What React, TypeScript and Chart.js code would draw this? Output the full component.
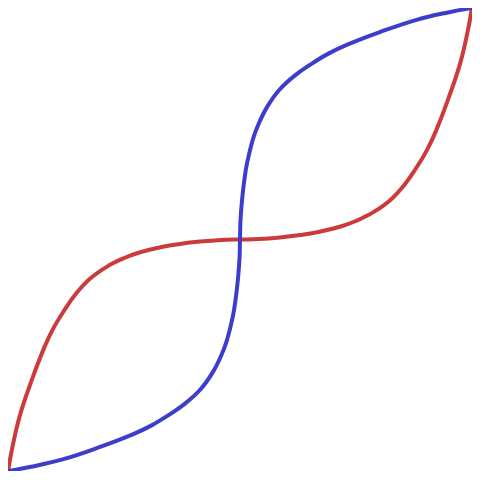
import React, { useEffect, useRef } from "react";
import { Chart, registerables } from "chart.js";

Chart.register(...registerables);

// Red curve, lower-left half; the upper half is its point reflection.
const redXLower = [-1, -0.983, -0.949, -0.895, -0.843, -0.804, -0.76, -0.709, -0.647, -0.573, -0.499, -0.434, -0.333, -0.259, -0.172, -0.08, 0];
const redYLower = [-1, -0.907, -0.761, -0.6, -0.465, -0.383, -0.31, -0.237, -0.17, -0.117, -0.08, -0.056, -0.031, -0.019, -0.009, -0.002, 0];

const RED = "#cc3b3b";
const BLUE = "#3d3dcc";

export default function App() {
  const ref = useRef<HTMLCanvasElement | null>(null);
  useEffect(() => {
    if (!ref.current) return;
    const lower = redXLower.map((x, i) => ({ x, y: redYLower[i] }));
    const upper = lower.slice(0, -1).reverse().map((p) => ({ x: -p.x, y: -p.y }));
    const redData = [...lower, ...upper];
    const blueData = redData.map((p) => ({ x: p.y, y: p.x }));
    const chart = new Chart(ref.current, {
      type: "line",
      data: {
        datasets: [
          {
            label: "blue",
            data: blueData,
            borderColor: BLUE,
            backgroundColor: BLUE,
            borderWidth: 4,
            pointRadius: 0,
            tension: 0.4,
          },
          {
            label: "red",
            data: redData,
            borderColor: RED,
            backgroundColor: RED,
            borderWidth: 4,
            pointRadius: 0,
            tension: 0.4,
          },
        ],
      },
      options: {
        animation: false,
        responsive: false,
        maintainAspectRatio: false,
        layout: { padding: { left: 0, right: 0, top: 0, bottom: 1 } },
        plugins: { legend: { display: false }, tooltip: { enabled: false } },
        scales: {
          x: { type: "linear", min: -1, max: 1, display: false },
          y: { type: "linear", min: -1, max: 1, display: false },
        },
      },
    });
    return () => chart.destroy();
  }, []);
  return (
    <div style={{ width: 464, height: 464 }}>
      <canvas ref={ref} width={464} height={464} style={{ display: "block" }} />
    </div>
  );
}
